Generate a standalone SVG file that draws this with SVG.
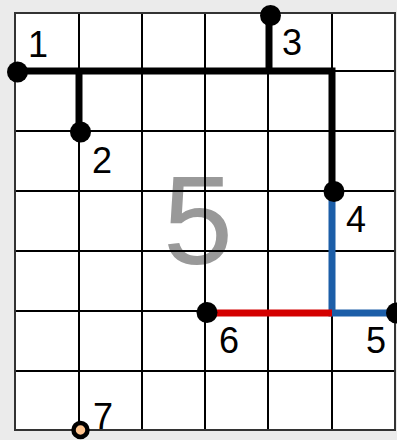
<svg xmlns="http://www.w3.org/2000/svg" width="397" height="440" viewBox="0 0 397 440">
<style>
.grid line{stroke:#000;stroke-width:2}
.lbl{font-family:"Liberation Sans",Arial,sans-serif;font-size:36px;fill:#000;text-anchor:middle}
.big{font-family:"Liberation Sans",Arial,sans-serif;font-size:126px;fill:#999;text-anchor:middle}
.dot{fill:#000}
.edge{fill:none;stroke-width:7;stroke-linecap:butt;stroke-linejoin:miter}
</style>
<rect x="0" y="0" width="397" height="440" fill="#ebebeb"/>
<rect x="15" y="13" width="380" height="417" fill="#fff"/>
<text class="big" x="198" y="264">5</text>
<g class="grid">
<line x1="79" y1="13" x2="79" y2="430"/>
<line x1="142" y1="13" x2="142" y2="430"/>
<line x1="205" y1="13" x2="205" y2="430"/>
<line x1="268" y1="13" x2="268" y2="430"/>
<line x1="332" y1="13" x2="332" y2="430"/>
<line x1="15" y1="71" x2="395" y2="71"/>
<line x1="15" y1="131" x2="395" y2="131"/>
<line x1="15" y1="191" x2="395" y2="191"/>
<line x1="15" y1="251" x2="395" y2="251"/>
<line x1="15" y1="311" x2="395" y2="311"/>
<line x1="15" y1="371" x2="395" y2="371"/>
<rect x="15" y="13" width="380" height="417" fill="none" stroke="#333" stroke-width="2"/>
</g>
<g id="connectors">
<path class="edge" stroke="#000" d="M17 71 H332 V192"/>
<path class="edge" stroke="#000" d="M79 71 V132"/>
<path class="edge" stroke="#000" d="M269 15 V71"/>
<path class="edge" stroke="#1c5ea8" d="M332 192 V313 H396"/>
<path class="edge" stroke="#d40000" d="M207 313 H332"/>
</g>
<g id="node1"><circle class="dot" cx="17.5" cy="72" r="10.5"/><text class="lbl" x="38" y="57">1</text></g>
<g id="node2"><circle class="dot" cx="80.5" cy="132" r="10.5"/><text class="lbl" x="102" y="173">2</text></g>
<g id="node3"><circle class="dot" cx="270.5" cy="15.5" r="10.5"/><text class="lbl" x="292" y="55">3</text></g>
<g id="node4"><circle class="dot" cx="334" cy="191.5" r="10.5"/><text class="lbl" x="356" y="232">4</text></g>
<g id="node5"><circle class="dot" cx="396.5" cy="313" r="10.5"/><text class="lbl" x="376" y="353">5</text></g>
<g id="node6"><circle class="dot" cx="207" cy="312.5" r="10.5"/><text class="lbl" x="229" y="353">6</text></g>
<g id="node7"><circle cx="80.5" cy="430" r="7" fill="#ffc48e" stroke="#000" stroke-width="4.5"/><text class="lbl" x="103" y="429">7</text></g>
</svg>
